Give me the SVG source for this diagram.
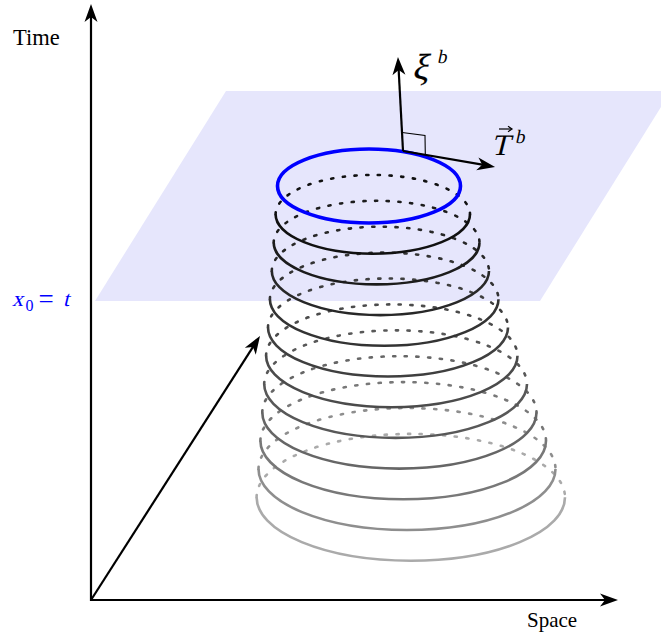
<svg xmlns="http://www.w3.org/2000/svg" width="661" height="642" viewBox="0 0 661 642">
<style>
.lbl{font-family:"Liberation Serif","Times New Roman",serif;font-size:21px;fill:#000}
.m{font-family:"Liberation Serif","Times New Roman",serif;font-style:normal}
.ax{stroke:#000;stroke-width:2.2;fill:none}
.solid{fill:none;stroke-width:2.6}
.dot{fill:none;stroke-width:2.6;stroke-linecap:round;stroke-dasharray:2.2 9.5}
</style>
<defs>
<marker id="ah" markerUnits="userSpaceOnUse" markerWidth="22" markerHeight="16" viewBox="-20 -8 22 16" refX="-10" refY="0" orient="auto">
<path d="M0,0 L-18,-6.5 L-13,0 L-18,6.5 Z" fill="#000"/>
</marker>
</defs>
<rect width="661" height="642" fill="#fff"/>
<g id="plane">
<polygon points="226,91 671,91 540,301 95,301" fill="#e6e6fc"/>
</g>
<g id="rings">
<g id="ring11" stroke="#aaa"><path class="dot" d="M256.6,497.3 A154.2,63.4 0 0 1 565,497.3"/><path class="solid" d="M256.6,497.3 A154.2,63.4 0 0 0 565,497.3"/></g>
<g id="ring10" stroke="#8e8e8e"><path class="dot" d="M258.5,469 A148.5,61 0 0 1 555.5,469"/><path class="solid" d="M258.5,469 A148.5,61 0 0 0 555.5,469"/></g>
<g id="ring9" stroke="#787878"><path class="dot" d="M260.4,440.7 A142.8,58.6 0 0 1 546,440.7"/><path class="solid" d="M260.4,440.7 A142.8,58.6 0 0 0 546,440.7"/></g>
<g id="ring8" stroke="#666"><path class="dot" d="M262.3,412.4 A137.1,56.2 0 0 1 536.5,412.4"/><path class="solid" d="M262.3,412.4 A137.1,56.2 0 0 0 536.5,412.4"/></g>
<g id="ring7" stroke="#585858"><path class="dot" d="M264.2,384.1 A131.4,53.8 0 0 1 527,384.1"/><path class="solid" d="M264.2,384.1 A131.4,53.8 0 0 0 527,384.1"/></g>
<g id="ring6" stroke="#4b4b4b"><path class="dot" d="M266.1,355.8 A125.7,51.4 0 0 1 517.5,355.8"/><path class="solid" d="M266.1,355.8 A125.7,51.4 0 0 0 517.5,355.8"/></g>
<g id="ring5" stroke="#3f3f3f"><path class="dot" d="M268,327.5 A120,49 0 0 1 508,327.5"/><path class="solid" d="M268,327.5 A120,49 0 0 0 508,327.5"/></g>
<g id="ring4" stroke="#333"><path class="dot" d="M269.9,299.2 A114.3,46.6 0 0 1 498.5,299.2"/><path class="solid" d="M269.9,299.2 A114.3,46.6 0 0 0 498.5,299.2"/></g>
<g id="ring3" stroke="#282828"><path class="dot" d="M271.8,270.9 A108.6,44.2 0 0 1 489,270.9"/><path class="solid" d="M271.8,270.9 A108.6,44.2 0 0 0 489,270.9"/></g>
<g id="ring2" stroke="#1c1c1c"><path class="dot" d="M273.7,242.6 A102.9,41.8 0 0 1 479.5,242.6"/><path class="solid" d="M273.7,242.6 A102.9,41.8 0 0 0 479.5,242.6"/></g>
<g id="ring1" stroke="#111"><path class="dot" d="M275.6,214.3 A97.2,39.4 0 0 1 470,214.3"/><path class="solid" d="M275.6,214.3 A97.2,39.4 0 0 0 470,214.3"/></g>
</g>
<g id="ring-blue">
<ellipse cx="369" cy="186" rx="91.5" ry="37" fill="none" stroke="#0000ff" stroke-width="3.6"/>
</g>
<g id="connectors">
<line class="ax" x1="91" y1="601" x2="91" y2="14" marker-end="url(#ah)"/>
<line class="ax" x1="90" y1="600" x2="608" y2="600" marker-end="url(#ah)"/>
<line class="ax" x1="91" y1="600" x2="254.6" y2="344.4" marker-end="url(#ah)"/>
<line class="ax" x1="403" y1="151" x2="398.5" y2="67" marker-end="url(#ah)"/>
<line class="ax" x1="403" y1="151" x2="485.2" y2="165.2" marker-end="url(#ah)"/>
<polyline points="402.1,132.5 425,135.5 425.3,154.6" fill="none" stroke="#000" stroke-width="1.1"/>
</g>
<g id="label-time"><text class="lbl" x="13" y="45" style="font-size:22.5px">Time</text></g>
<g id="label-space"><text class="lbl" x="527" y="627">Space</text></g>
<g id="label-x0" fill="#0000ff">
<g transform="translate(12,306) skewX(-14)"><text class="m" x="0" y="0" font-size="22" fill="#0000ff">x</text></g>
<text class="m" x="25.5" y="311" font-size="16" fill="#0000ff">0</text>
<text class="m" x="38.5" y="307.5" font-size="27" fill="#0000ff">=</text>
<g transform="translate(63,306) skewX(-14)"><text class="m" x="0" y="0" font-size="22" fill="#0000ff">t</text></g>
</g>
<g id="label-xi">
<g transform="translate(412,79) skewX(-12)"><text class="m" x="0" y="0" font-size="36" stroke="#000" stroke-width="0.25">ξ</text></g>
<g transform="translate(437,63) skewX(-12)"><text class="m" x="0" y="0" font-size="19">b</text></g>
</g>
<g id="label-T">
<g transform="translate(491,155) skewX(-14)"><text class="m" x="0" y="0" font-size="30">T</text></g>
<g transform="translate(515,143) skewX(-12)"><text class="m" x="0" y="0" font-size="19">b</text></g>
<line x1="499" y1="129" x2="511" y2="129" stroke="#000" stroke-width="1.2"/>
<polyline points="508,126.3 512,129 508,131.7" fill="none" stroke="#000" stroke-width="1.2"/>
</g>
</svg>
